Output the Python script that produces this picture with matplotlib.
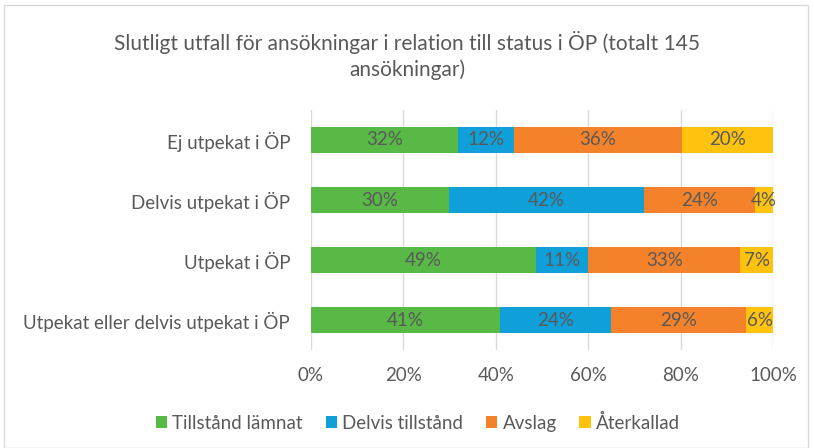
import numpy as np
import matplotlib.pyplot as plt
from matplotlib.patches import Rectangle

# data (shares, bottom row first)
categories = ["Utpekat eller delvis utpekat i ÖP", "Utpekat i ÖP",
              "Delvis utpekat i ÖP", "Ej utpekat i ÖP"]
series = ["Tillstånd lämnat", "Delvis tillstånd", "Avslag", "Återkallad"]
tillstand = [40.9, 48.7, 29.9, 31.8]
delvis = [24.0, 11.3, 42.2, 12.1]
avslag = [29.3, 32.9, 24.0, 36.3]
aterkallad = [5.8, 7.1, 3.9, 19.8]
colors = ["#58B947", "#0FA0DA", "#F4822A", "#FFC20E"]

plt.rcParams['font.family'] = ['Lato', 'DejaVu Sans']
txt = "#595959"

fig = plt.figure(figsize=(8.14, 4.48), dpi=100)
ax = fig.add_axes([311/814, 1-350/448, 462/814, 240/448])

y = np.arange(len(categories))
left = np.zeros(len(categories))
for name, vals, c in zip(series, [tillstand, delvis, avslag, aterkallad], colors):
    vals = np.array(vals)
    ax.barh(y, vals, left=left, height=0.42, color=c, label=name, zorder=3)
    for yi, l, v in zip(y, left, vals):
        ax.text(l + v/2, yi, f"{v:.0f}%", ha='center', va='center',
                color=txt, fontsize=13.5, zorder=4)
    left += vals

ax.set_xlim(0, 100)
ax.set_ylim(-0.5, 3.5)
ax.set_xticks(np.arange(0, 101, 20))
ax.set_xticklabels([f"{t}%" for t in range(0, 101, 20)])
ax.set_yticks(y)
ax.set_yticklabels(categories)
ax.tick_params(axis='both', length=0, colors=txt, labelsize=13.5)
ax.tick_params(axis='y', pad=15)
ax.tick_params(axis='x', pad=12)
ax.grid(axis='x', color='#D9D9D9', linewidth=1, zorder=0)
for s in ax.spines.values():
    s.set_visible(False)

fig.text(0.5, 1-42/448, "Slutligt utfall för ansökningar i relation till status i ÖP (totalt 145",
         ha='center', va='center', fontsize=15, color=txt)
fig.text(0.5, 1-70/448, "ansökningar)", ha='center', va='center', fontsize=15, color=txt)

fig.legend(loc='center', bbox_to_anchor=(418/814, 1-423/448), ncol=4, frameon=False,
           fontsize=13.5, labelcolor=txt, handlelength=0.6, handleheight=0.6,
           handletextpad=0.3, columnspacing=1.2)

fig.patches.append(Rectangle((4/814, 0), 804/814, 1-5/448, transform=fig.transFigure,
                             fill=False, edgecolor='#D9D9D9', linewidth=1))

fig.savefig("out.png", dpi=100)
